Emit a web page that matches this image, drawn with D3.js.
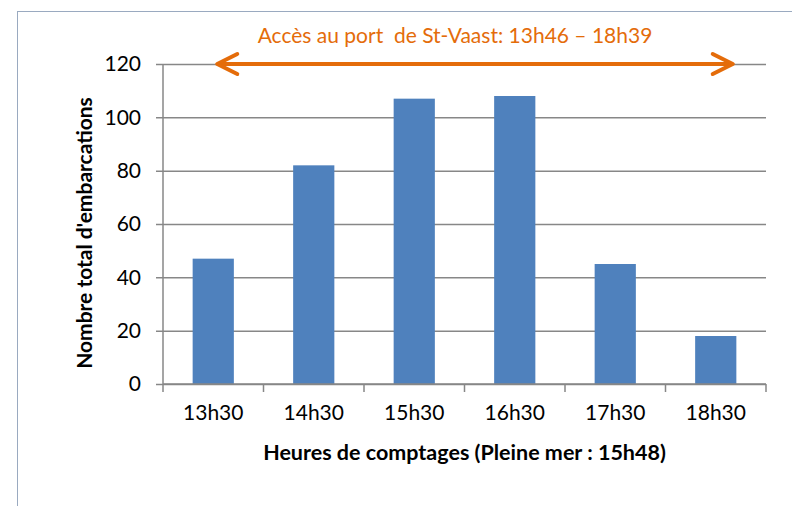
<!DOCTYPE html>
<html>
<head>
<meta charset="utf-8">
<script src="https://cdn.jsdelivr.net/npm/d3@7"></script>
<style>
  body { margin: 0; background: #fff; }
  svg text { font-family: Lato, "Open Sans", sans-serif; white-space: pre; }
</style>
</head>
<body>
<svg id="chart" width="792" height="506"></svg>
<script>
// data
var hours = ['13h30', '14h30', '15h30', '16h30', '17h30', '18h30'];
var boats = [47, 82, 107, 108, 45, 18];
var yTicks = [0, 20, 40, 60, 80, 100, 120];

var titleText = 'Accès au port  de St-Vaast: 13h46 – 18h39';
var xTitle = 'Heures de comptages (Pleine mer : 15h48)';
var yTitle = "Nombre total d'embarcations";

var margin = { left: 163, right: 26, top: 64, bottom: 122 },
    width = 792 - margin.left - margin.right,
    height = 506 - margin.top - margin.bottom;

var svg = d3.select('#chart');

// outer frame
svg.append('rect')
    .attr('x', 17.5).attr('y', 11.5)
    .attr('width', 800).attr('height', 520)
    .attr('fill', 'none')
    .attr('stroke', '#9aaac0')
    .attr('stroke-width', 1);

var g = svg.append('g').attr('transform', 'translate(' + margin.left + ',' + margin.top + ')');

var x = d3.scaleBand().domain(hours).range([0, width]).paddingInner(0.59).paddingOuter(0.295);
var y = d3.scaleLinear().domain([0, 120]).range([height, 0]);

// gridlines + y axis
var yAxis = g.append('g')
    .call(d3.axisLeft(y).tickValues(yTicks).tickSize(-width).tickPadding(22));
yAxis.select('.domain').remove();
yAxis.selectAll('.tick line').attr('stroke', '#878787').attr('stroke-width', 1.5);
yAxis.selectAll('.tick line').attr('x1', -7);
yAxis.selectAll('.tick text').attr('font-size', 21).attr('fill', '#000');

g.append('line')
    .attr('x1', 0).attr('x2', 0).attr('y1', 0).attr('y2', height)
    .attr('stroke', '#878787').attr('stroke-width', 1.5);

// bars
g.selectAll('rect.bar')
    .data(boats)
    .enter().append('rect')
    .attr('class', 'bar')
    .attr('x', function (d, i) { return x(hours[i]); })
    .attr('y', function (d) { return y(d); })
    .attr('width', x.bandwidth())
    .attr('height', function (d) { return height - y(d); })
    .attr('fill', '#4f81bd');

// x axis with boundary ticks between categories
var xb = g.append('g').attr('transform', 'translate(0,' + height + ')');
xb.append('line')
    .attr('x1', 0).attr('x2', width)
    .attr('stroke', '#878787').attr('stroke-width', 1.5);
var step = x.step();
xb.selectAll('line.tk')
    .data(d3.range(hours.length + 1))
    .enter().append('line')
    .attr('class', 'tk')
    .attr('x1', function (d) { return d * step; })
    .attr('x2', function (d) { return d * step; })
    .attr('y1', 0).attr('y2', 8)
    .attr('stroke', '#878787').attr('stroke-width', 1.5);
xb.selectAll('text')
    .data(hours)
    .enter().append('text')
    .attr('x', function (d) { return x(d) + x.bandwidth() / 2; })
    .attr('y', 36)
    .attr('text-anchor', 'middle')
    .attr('font-size', 21)
    .text(function (d) { return d; });

// axis titles
svg.append('text')
    .attr('x', margin.left + width / 2)
    .attr('y', 460)
    .attr('text-anchor', 'middle')
    .attr('font-size', 21.5)
    .attr('font-weight', 'bold')
    .text(xTitle);

svg.append('text')
    .attr('transform', 'translate(92,' + (margin.top + height / 2 + 9) + ') rotate(-90)')
    .attr('text-anchor', 'middle')
    .attr('font-size', 21)
    .attr('font-weight', 'bold')
    .text(yTitle);

// orange double arrow (access window)
var ax1 = x(hours[0]) + x.bandwidth() / 2 + 4,
    ax2 = x(hours[5]) + x.bandwidth() / 2 + 17,
    ay = y(120);
var orange = '#e46c0a';
g.append('line')
    .attr('x1', ax1 + 2).attr('x2', ax2 - 2).attr('y1', ay).attr('y2', ay)
    .attr('stroke', orange).attr('stroke-width', 4);
g.append('path')
    .attr('d', 'M' + (ax1 + 20) + ',' + (ay - 10) + 'L' + ax1 + ',' + ay + 'L' + (ax1 + 20) + ',' + (ay + 10))
    .attr('fill', 'none').attr('stroke', orange).attr('stroke-width', 4)
    .attr('stroke-linecap', 'round').attr('stroke-linejoin', 'round');
g.append('path')
    .attr('d', 'M' + (ax2 - 20) + ',' + (ay - 10) + 'L' + ax2 + ',' + ay + 'L' + (ax2 - 20) + ',' + (ay + 10))
    .attr('fill', 'none').attr('stroke', orange).attr('stroke-width', 4)
    .attr('stroke-linecap', 'round').attr('stroke-linejoin', 'round');

svg.append('text')
    .attr('x', 455)
    .attr('y', 43)
    .attr('text-anchor', 'middle')
    .attr('font-size', 21)
    .attr('fill', orange)
    .text(titleText);
</script>
</body>
</html>
